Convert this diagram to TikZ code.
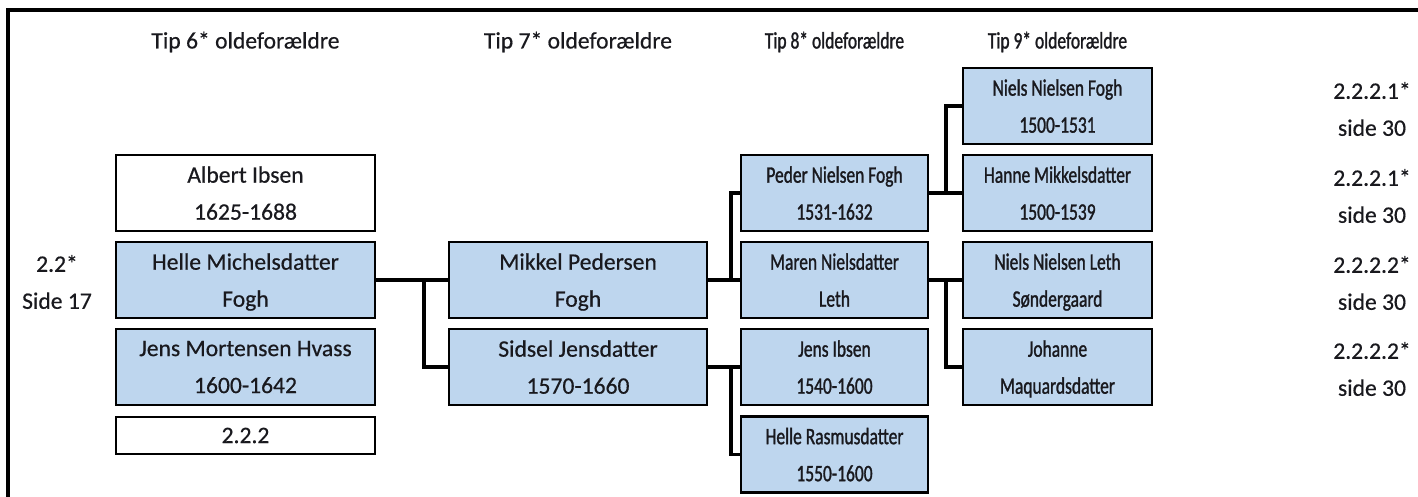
\documentclass[tikz,border=0pt]{standalone}
\usepackage{fontspec}
\setmainfont{Carlito}[FakeBold=0.5]
\newfontfamily\narrowfont{Carlito}[FakeStretch=0.74,FakeBold=1.2]
\definecolor{boxblue}{RGB}{190,214,238}
\definecolor{txt}{RGB}{25,25,30}
\begin{document}
\begin{tikzpicture}[x=0.5pt,y=-0.5pt,
  every node/.style={text=txt,font=\fontsize{11.8}{18.5}\selectfont},
  person/.style={draw=black,line width=1.4pt,fill=boxblue,inner sep=0pt,align=center,minimum height=38pt,text depth=-1.5pt},
  plain/.style={person,fill=white},
  narrow/.style={font=\narrowfont\fontsize{11.8}{18.5}\selectfont},
  w1/.style={minimum width=129.5pt},
  w2/.style={minimum width=129pt},
  w3/.style={minimum width=93.5pt,narrow},
  w4/.style={minimum width=94.5pt,narrow},
  heading/.style={},
  note/.style={align=center},
  link/.style={line width=1.6pt}]
\useasboundingbox (0,0) rectangle (1418,497);
\draw[line width=1.6pt] (8,497) -- (8,10) -- (1418,10);
% headings
\node[heading] (h6) at (245.5,42) {Tip 6* oldeforældre};
\node[heading] (h7) at (578,42) {Tip 7* oldeforældre};
\node[heading,narrow] (h8) at (834.5,42) {Tip 8* oldeforældre};
\node[heading,narrow] (h9) at (1057.5,42) {Tip 9* oldeforældre};
% column 1
\node[plain,w1] (albert) at (245.5,193) {Albert Ibsen\\1625-1688};
\node[person,w1] (helle) at (245.5,280) {Helle Michelsdatter\\Fogh};
\node[person,w1] (jensm) at (245.5,367) {Jens Mortensen Hvass\\1600-1642};
\node[plain,w1,minimum height=18.5pt,text depth=] (ref) at (245.5,435.5) {2.2.2};
% column 2
\node[person,w2] (mikkel) at (578,280) {Mikkel Pedersen\\Fogh};
\node[person,w2] (sidsel) at (578,367) {Sidsel Jensdatter\\1570-1660};
% column 3
\node[person,w3] (peder) at (834.5,193) {Peder Nielsen Fogh\\1531-1632};
\node[person,w3] (maren) at (834.5,280) {Maren Nielsdatter\\Leth};
\node[person,w3] (jensi) at (834.5,367) {Jens Ibsen\\1540-1600};
\node[person,w3] (heller) at (834.5,454.5) {Helle Rasmusdatter\\1550-1600};
% column 4
\node[person,w4] (nielsf) at (1057.5,106) {Niels Nielsen Fogh\\1500-1531};
\node[person,w4] (hanne) at (1057.5,193) {Hanne Mikkelsdatter\\1500-1539};
\node[person,w4] (nielsl) at (1057.5,280) {Niels Nielsen Leth\\Søndergaard};
\node[person,w4] (johanne) at (1057.5,367) {Johanne\\Maquardsdatter};
% side notes
\node[note] (n0) at (57,282) {2.2*\\Side 17};
\node[note] (n1) at (1372,109) {2.2.2.1*\\side 30};
\node[note] (n2) at (1372,196) {2.2.2.1*\\side 30};
\node[note] (n3) at (1372,283) {2.2.2.2*\\side 30};
\node[note] (n4) at (1372,369) {2.2.2.2*\\side 30};
% connectors
\coordinate (j1) at (424,280);
\coordinate (j2) at (731,280);
\coordinate (j3) at (731,367);
\coordinate (j4) at (946,193);
\coordinate (j5) at (946,280);
\draw[link] (helle.east) -- (mikkel.west);
\draw[link] (j1) |- (sidsel.west);
\draw[link] (mikkel.east) -- (maren.west);
\draw[link] (j2) |- (peder.west);
\draw[link] (sidsel.east) -- (jensi.west);
\draw[link] (j3) |- (heller.west);
\draw[link] (peder.east) -- (hanne.west);
\draw[link] (j4) |- (nielsf.west);
\draw[link] (maren.east) -- (nielsl.west);
\draw[link] (j5) |- (johanne.west);
\end{tikzpicture}
\end{document}
